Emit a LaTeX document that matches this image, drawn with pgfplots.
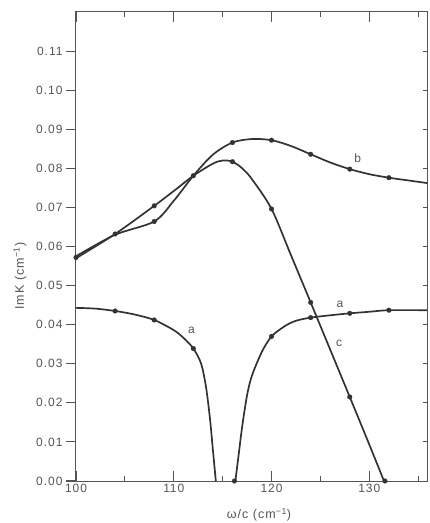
\documentclass[border=0pt]{standalone}
\usepackage{fontspec}
\setmainfont{Liberation Sans}[LetterSpace=8]
\usepackage{pgfplots}
\pgfplotsset{compat=1.18}

\definecolor{curve}{HTML}{333333}
\definecolor{frame}{HTML}{555555}

\begin{document}
\begin{tikzpicture}
\begin{axis}[
  name=ax,
  scale only axis,
  width=352pt, height=469pt,
  xmin=100, xmax=136, ymin=0, ymax=0.12,
  axis line style={frame, line width=1pt},
  tick style={frame, line width=1.1pt},
  xtick={100,110,120,130}, minor xtick={105,115,125,135},
  tick pos=both, tick align=inside,
  ytick pos=left, ytick align=outside,
  major tick length=10pt, minor tick length=5pt,
  ytick={0,0.01,0.02,0.03,0.04,0.05,0.06,0.07,0.08,0.09,0.10,0.11},
  yticklabel style={/pgf/number format/.cd, fixed, fixed zerofill, precision=2, assume math mode=true},
  xticklabel style={/pgf/number format/assume math mode=true},
  tick label style={font=\fontsize{12}{14}\selectfont, text=frame},
  scaled y ticks=false,
  xlabel={ω/c (cm\textsuperscript{−1})},
  ylabel={ImK (cm\textsuperscript{−1})},
  label style={font=\fontsize{12.5}{14}\selectfont, text=frame},
  xlabel style={at={(axis description cs:0.52,-0.072)}, anchor=center},
  ylabel style={at={(axis description cs:-0.159,0.437)}, anchor=center},
]
% curve a, left branch
\addplot[curve, line width=1.7pt, smooth] coordinates {
 (100,0.0443) (102,0.0441) (104,0.0435) (106,0.0426) (108,0.0412) (110,0.0386)
 (111,0.0366) (112,0.0339) (112.8,0.0300) (113.3,0.0240) (113.7,0.0160)
 (114.0,0.0080) (114.3,0.0)
};
% curve a, right branch
\addplot[curve, line width=1.7pt, smooth] coordinates {
 (116.3,0.0) (116.6,0.0060) (117.0,0.0140) (117.5,0.0220) (118,0.0270) (119,0.0330)
 (120,0.0370) (121.4,0.0397) (122.5,0.0410) (124,0.0418) (126,0.0424) (128,0.0429)
 (130,0.0433) (132,0.0437) (136,0.0437)
};
% curve b
\addplot[curve, line width=1.7pt, smooth] coordinates {
 (100,0.0575) (104,0.0630) (108,0.0664) (110,0.0717) (112,0.0781) (114,0.0835)
 (116,0.0866) (118,0.0875) (120,0.0872) (122,0.0857) (124,0.0836) (126,0.0815)
 (128,0.0798) (130,0.0785) (132,0.0776) (134,0.0769) (136,0.0762)
};
% curve c
\addplot[curve, line width=1.7pt, smooth] coordinates {
 (100,0.0570) (104,0.0632) (108,0.0704) (110,0.0742) (112,0.0781) (114,0.0812)
 (115,0.0820) (116,0.0817) (117,0.0800) (118,0.0772) (120,0.0696) (122,0.0577)
 (124,0.0457) (126,0.0336) (128,0.0215) (130,0.0093) (131.5,0.0)
};
% measured points
\addplot[only marks, mark=*, mark size=2.3pt, curve] coordinates {
 (104,0.0435) (108,0.0412) (112,0.0339) (116.2,0.0) (120,0.0370) (124,0.0418) (128,0.0429) (132,0.0437)
};
\addplot[only marks, mark=*, mark size=2.3pt, curve] coordinates {
 (100,0.0572) (104,0.0632) (108,0.0664) (112,0.0781) (116,0.0866) (120,0.0872) (124,0.0836) (128,0.0798) (132,0.0776)
};
\addplot[only marks, mark=*, mark size=2.3pt, curve] coordinates {
 (108,0.0704) (116,0.0817) (120,0.0696) (124,0.0457) (128,0.0215) (131.6,0.0)
};
\node[font=\fontsize{12}{14}\selectfont, text=frame] at (axis cs:111.8,0.0385) {a};
\node[font=\fontsize{12}{14}\selectfont, text=frame] at (axis cs:127.0,0.0453) {a};
\node[font=\fontsize{12}{14}\selectfont, text=frame] at (axis cs:128.8,0.0827) {b};
\node[font=\fontsize{12}{14}\selectfont, text=frame] at (axis cs:126.9,0.0353) {c};
\end{axis}
\begin{axis}[
  at={(ax.south west)}, anchor=south west,
  scale only axis,
  width=352pt, height=469pt,
  xmin=100, xmax=136, ymin=0, ymax=0.12,
  axis x line=none,
  axis y line*=right,
  axis line style={frame, line width=1pt},
  tick style={frame, line width=1.1pt},
  ytick={0.01,0.02,0.03,0.04,0.05,0.06,0.07,0.08,0.09,0.10,0.11},
  yticklabels={},
  tick align=inside, major tick length=5pt,
]
\addplot[draw=none] coordinates {(100,0) (136,0.12)};
\end{axis}
\pgfresetboundingbox
\path[use as bounding box] ([xshift=-76pt,yshift=-42pt]ax.south west) rectangle ([xshift=2pt,yshift=12pt]ax.north east);
\end{tikzpicture}
\end{document}
